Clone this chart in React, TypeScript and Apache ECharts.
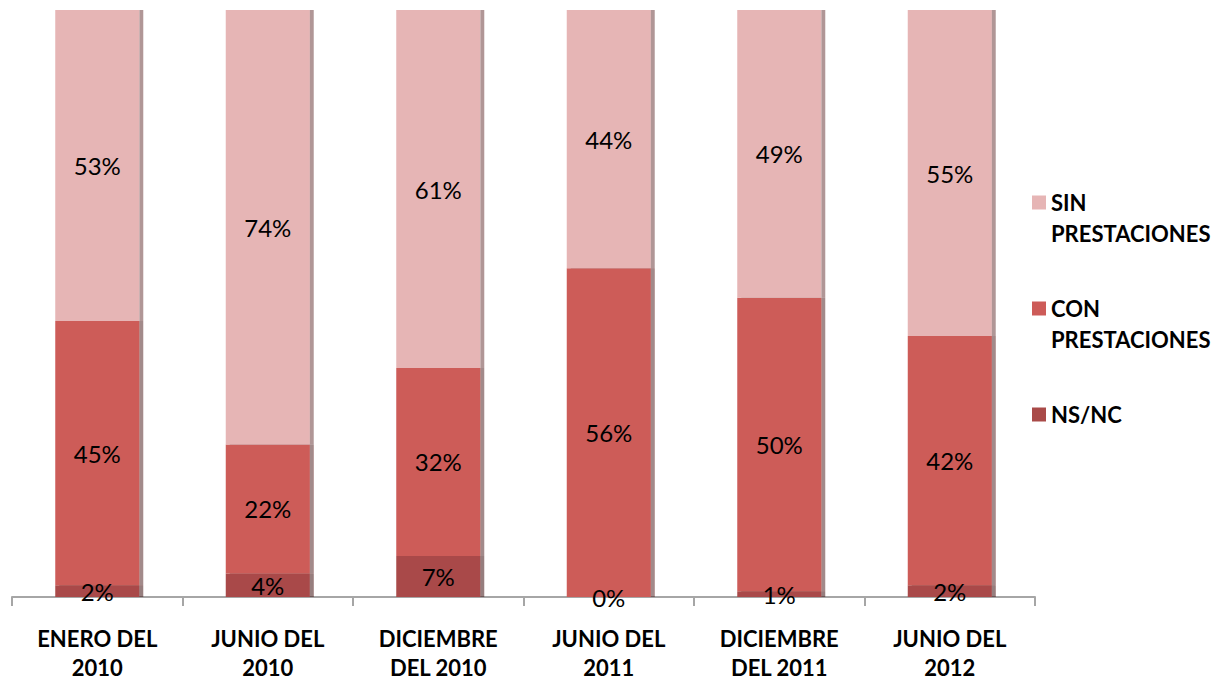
import React, { useEffect, useRef } from "react";
import * as echarts from "echarts";

const categories = [
  "ENERO DEL\n2010",
  "JUNIO DEL\n2010",
  "DICIEMBRE\nDEL 2010",
  "JUNIO DEL\n2011",
  "DICIEMBRE\nDEL 2011",
  "JUNIO DEL\n2012",
];
const nsnc = [2, 4, 7, 0, 1, 2];
const con = [45, 22, 32, 56, 50, 42];
const sin = [53, 74, 61, 44, 49, 55];

const seriesNames = ["NS/NC", "CON PRESTACIONES", "SIN PRESTACIONES"];
const legendLines: Record<string, string> = {
  "SIN PRESTACIONES": " \nSIN\nPRESTACIONES",
  "CON PRESTACIONES": " \nCON\nPRESTACIONES",
  "NS/NC": " \nNS/NC\n ",
};

const FONT = "Lato, 'Open Sans', sans-serif";

export default function App() {
  const ref = useRef<HTMLDivElement>(null);
  useEffect(() => {
    const chart = echarts.init(ref.current!, null, { renderer: "svg" });
    const colors = ["#A94A48", "#CD5B58", "#E6B5B5"];
    const sideShadow = ["rgba(60,10,10,0.55)", "rgba(70,10,10,0.5)", "rgba(80,30,30,0.45)"];
    const datasets = [nsnc, con, sin];
    const totals = categories.map((_, j) => datasets.reduce((s, d) => s + d[j], 0));
    chart.setOption({
      animation: false,
      grid: { left: 12, right: 190, top: 10, bottom: 79, containLabel: false },
      legend: {
        orient: "vertical",
        left: 1027,
        top: 151,
        itemWidth: 14,
        itemHeight: 14,
        itemGap: 13,
        icon: "rect",
        data: ["SIN PRESTACIONES", "CON PRESTACIONES", "NS/NC"],
        formatter: (n: string) => legendLines[n] || n,
        textStyle: {
          fontFamily: FONT,
          fontWeight: "bold",
          fontSize: 22,
          lineHeight: 31,
          color: "#000",
        },
      },
      xAxis: {
        type: "category",
        data: categories,
        axisLine: { show: true, lineStyle: { color: "#a6a6a6", width: 2 } },
        axisTick: { show: true, length: 9, lineStyle: { color: "#a6a6a6", width: 2 } },
        axisLabel: {
          interval: 0,
          margin: 27,
          fontFamily: FONT,
          fontWeight: "bold",
          fontSize: 22,
          lineHeight: 29,
          color: "#000",
        },
      },
      yAxis: {
        type: "value",
        min: 0,
        max: 100,
        show: false,
        splitLine: { show: false },
      },
      series: datasets.map((d, i) => ({
        name: seriesNames[i],
        type: "bar",
        stack: "total",
        barWidth: 84,
        data: d.map((v, j) => (v / totals[j]) * 100),
        itemStyle: {
          color: colors[i],
          shadowColor: sideShadow[i],
          shadowOffsetX: 4,
          shadowOffsetY: 0,
          shadowBlur: 0,
        },
        label: {
          show: true,
          position: "inside",
          formatter: (p: any) => `${d[p.dataIndex]}%`,
          fontFamily: FONT,
          fontSize: 24,
          color: "#000",
        },
      })),
    });
    return () => chart.dispose();
  }, []);
  return <div ref={ref} style={{ width: 1225, height: 682, marginLeft: -8, marginTop: -8 }} />;
}
